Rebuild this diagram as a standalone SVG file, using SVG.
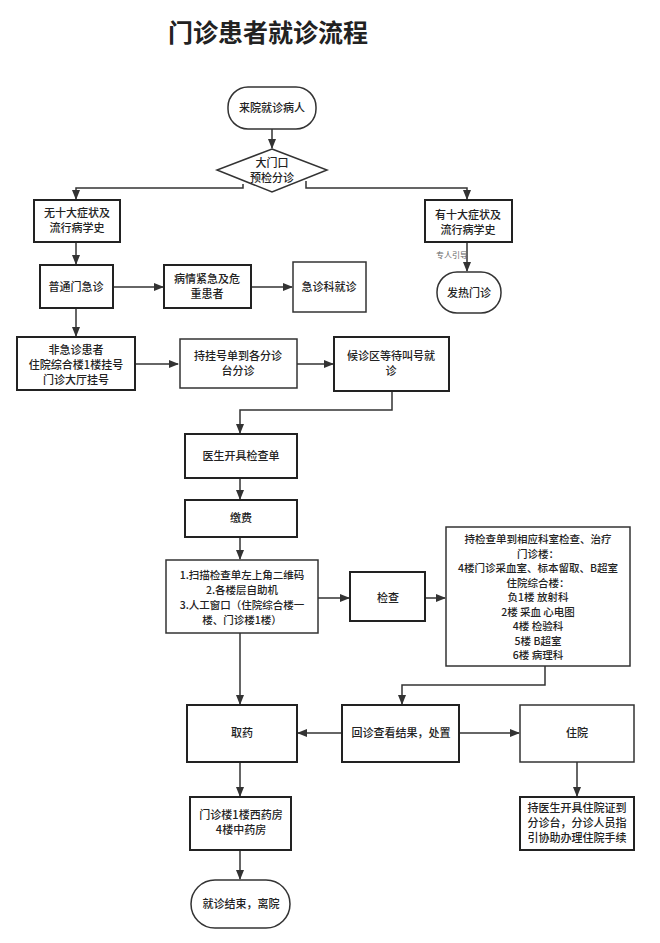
<svg xmlns="http://www.w3.org/2000/svg" width="660" height="943" viewBox="0 0 660 943">
<style>
.b{fill:#fff;stroke:#333;stroke-width:1.5}
.bb{fill:#fff;stroke:#222;stroke-width:2}
.c{fill:none;stroke:#333;stroke-width:1.5;marker-end:url(#a)}
text{font-family:"Noto Sans CJK SC","Noto Sans",sans-serif;font-size:11px;fill:#222;text-anchor:middle;font-weight:500}
.t{font-size:25px;font-weight:700;text-anchor:start}
.s{font-size:8px;fill:#666;font-weight:400}
.m{font-size:10.5px}
</style>
<defs><marker id="a" markerWidth="10" markerHeight="8" refX="9" refY="4" orient="auto" markerUnits="userSpaceOnUse"><path d="M0,0L10,4L0,8z" fill="#333"/></marker></defs>
<rect width="660" height="943" fill="#fff"/>
<text class="t" x="168" y="42">门诊患者就诊流程</text>
<g id="connectors">
<path class="c" d="M272,129V148"/>
<path class="c" d="M243,184V188H76V199"/>
<path class="c" d="M306,181V188H467V199"/>
<path class="c" d="M467,242V271"/>
<path class="c" d="M76,242V264"/>
<path class="c" d="M113,287H163"/>
<path class="c" d="M251,287H292"/>
<path class="c" d="M76,308V336"/>
<path class="c" d="M135,364H178"/>
<path class="c" d="M297,364H333"/>
<path class="c" d="M392,391V410H240V433"/>
<path class="c" d="M240,478V499"/>
<path class="c" d="M240,537V559"/>
<path class="c" d="M318,598H349"/>
<path class="c" d="M425,598H445"/>
<path class="c" d="M545,666V685H402V704"/>
<path class="c" d="M240,633V704"/>
<path class="c" d="M342,733H298"/>
<path class="c" d="M459,733H519"/>
<path class="c" d="M577,762V796"/>
<path class="c" d="M240,762V796"/>
<path class="c" d="M240,850V879"/>
<text class="s" x="452" y="258">专人引导</text>
</g>
<g id="start"><rect class="b" x="228" y="87" width="88" height="42" rx="20"/><text x="272" y="112">来院就诊病人</text></g>
<g id="triage"><path class="b" d="M272,149L327,170L272,192L217,170z"/><text x="272" y="167">大门口</text><text x="272" y="182">预检分诊</text></g>
<g id="nosym"><rect class="bb" x="34" y="200" width="86" height="42"/><text x="77" y="217">无十大症状及</text><text x="77" y="232">流行病学史</text></g>
<g id="sym"><rect class="bb" x="425" y="200" width="87" height="42"/><text x="468" y="219">有十大症状及</text><text x="468" y="234">流行病学史</text></g>
<g id="fever"><rect class="b" x="437" y="272" width="64" height="41" rx="20"/><text x="469" y="297">发热门诊</text></g>
<g id="general"><rect class="bb" x="40" y="265" width="73" height="43"/><text x="76" y="291">普通门急诊</text></g>
<g id="critical"><rect class="bb" x="164" y="265" width="87" height="43"/><text x="207" y="283">病情紧急及危</text><text x="207" y="298">重患者</text></g>
<g id="er"><rect class="b" x="293" y="262" width="73" height="50"/><text x="329" y="291">急诊科就诊</text></g>
<g id="nonurgent"><rect class="bb" x="17" y="337" width="118" height="53"/><text x="76" y="354">非急诊患者</text><text x="76" y="369">住院综合楼1楼挂号</text><text x="76" y="384">门诊大厅挂号</text></g>
<g id="register"><rect class="b" x="180" y="339" width="117" height="49"/><text x="238" y="360">持挂号单到各分诊</text><text x="238" y="375">台分诊</text></g>
<g id="wait"><rect class="bb" x="334" y="337" width="115" height="54"/><text x="391" y="360">候诊区等待叫号就</text><text x="391" y="375">诊</text></g>
<g id="order"><rect class="bb" x="185" y="434" width="112" height="44"/><text x="241" y="460">医生开具检查单</text></g>
<g id="pay"><rect class="bb" x="185" y="500" width="112" height="37"/><text x="241" y="522">缴费</text></g>
<g id="scan"><rect class="b" x="166" y="560" width="152" height="73"/><text class="m" x="242" y="579">1.扫描检查单左上角二维码</text><text class="m" x="242" y="594">2.各楼层自助机</text><text class="m" x="242" y="609">3.人工窗口（住院综合楼一</text><text class="m" x="242" y="624">楼、门诊楼1楼）</text></g>
<g id="exam"><rect class="bb" x="350" y="572" width="75" height="49"/><text x="388" y="602">检查</text></g>
<g id="depts"><rect class="b" x="446" y="527" width="184" height="139"/>
<text class="m" x="538" y="543">持检查单到相应科室检查、治疗</text><text class="m" x="538" y="558">门诊楼：</text><text class="m" x="538" y="572">4楼门诊采血室、标本留取、B超室</text><text class="m" x="538" y="587">住院综合楼：</text><text class="m" x="538" y="601">负1楼 放射科</text><text class="m" x="538" y="616">2楼 采血 心电图</text><text class="m" x="538" y="630">4楼 检验科</text><text class="m" x="538" y="645">5楼 B超室</text><text class="m" x="538" y="659">6楼 病理科</text></g>
<g id="medicine"><rect class="bb" x="187" y="705" width="110" height="57"/><text x="242" y="737">取药</text></g>
<g id="review"><rect class="bb" x="342" y="705" width="117" height="57"/><text x="401" y="737">回诊查看结果，处置</text></g>
<g id="hospital"><rect class="b" x="520" y="705" width="114" height="57"/><text x="577" y="737">住院</text></g>
<g id="admit"><rect class="bb" x="520" y="797" width="114" height="53"/><text x="577" y="812">持医生开具住院证到</text><text x="577" y="827">分诊台，分诊人员指</text><text x="577" y="842">引协助办理住院手续</text></g>
<g id="pharmacy"><rect class="bb" x="190" y="797" width="101" height="53"/><text x="241" y="819">门诊楼1楼西药房</text><text x="241" y="834">4楼中药房</text></g>
<g id="end"><rect class="b" x="191" y="880" width="99" height="48" rx="24"/><text x="241" y="908">就诊结束，离院</text></g>
</svg>
